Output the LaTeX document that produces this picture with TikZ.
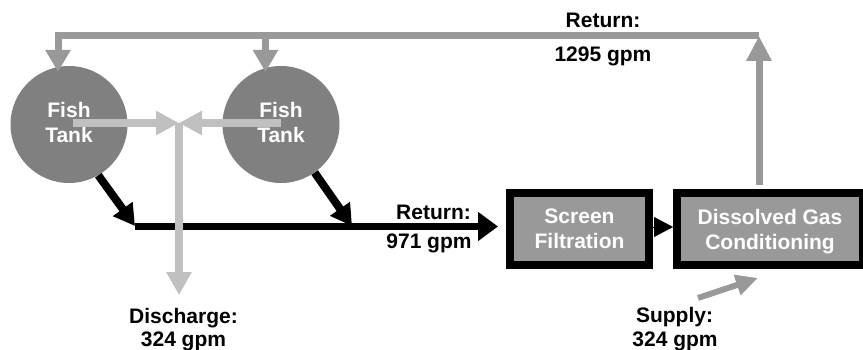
\documentclass[tikz,border=0pt]{standalone}
\usepackage{fontspec}
\setmainfont{Liberation Sans}
\usetikzlibrary{arrows.meta}
\definecolor{tankgray}{HTML}{808080}
\definecolor{retgray}{HTML}{999999}
\definecolor{lightg}{HTML}{C0C0C0}
\definecolor{boxgray}{HTML}{999999}
\begin{document}
\begin{tikzpicture}[x=1pt,y=-1pt,
  bigfont/.style={font=\fontsize{21}{25}\selectfont\bfseries},
  lbl/.style={bigfont, inner sep=0pt, anchor=base, text=black},
  tank/.style={circle, fill=tankgray, minimum size=117pt, inner sep=0pt,
    text=white, align=center, bigfont},
  proc/.style={draw=black, line width=8pt, fill=boxgray, text=white,
    align=center, bigfont, minimum height=72pt, inner sep=0pt},
  retline/.style={draw=retgray, line width=7pt, line join=miter},
  lgline/.style={draw=lightg, line width=8pt},
  blkline/.style={draw=black, line width=8pt},
  suppline/.style={draw=retgray, line width=6pt}
]
\useasboundingbox (0,0) rectangle (863,350);
\clip (0,0) rectangle (863,350);

% coordinates
\coordinate (cr) at (759,36);
\coordinate (cl) at (58,36);
\coordinate (cm) at (265.5,36);
\coordinate (t1in) at (58,72);
\coordinate (t2in) at (265.5,72);
\coordinate (gs) at (759,185);
\coordinate (l1) at (73,123);
\coordinate (l2) at (281,123);
\coordinate (j) at (179,123);
\coordinate (dis) at (179,295);
\coordinate (b1) at (135,226);
\coordinate (b2) at (352,226);
\coordinate (hs) at (135,226.5);
\coordinate (he) at (498,226.5);
\coordinate (s0) at (698,298);
\coordinate (s1) at (758,278);

% tanks
\node[tank] (tank1) at (69,124.5) {Fish\\Tank\rule[-4pt]{0pt}{0pt}};
\node[tank] (tank2) at (281,124.5) {Fish\\Tank\rule[-4pt]{0pt}{0pt}};

% process boxes
\node[proc, minimum width=139pt] (filt) at (579.5,229) {Screen\\Filtration};
\node[proc, minimum width=186pt] (dgc) at (770,229) {\rule{0pt}{19.5pt}Dissolved Gas\\Conditioning};

% top return loop
\draw[retline, -{Triangle[length=25pt,width=24pt]}] (gs) -- (cr);
\draw[retline, -{Triangle[length=22pt,width=24pt]}] (cr) -- (cl) -- (t1in);
\draw[retline, -{Triangle[length=22pt,width=24pt]}] (cm) -- (t2in);

% black return flows
\draw[blkline, -{Triangle[length=21pt,width=23pt]}] (tank1.-60) -- (b1);
\draw[blkline, -{Triangle[length=21pt,width=23pt]}] (tank2.-55) -- (b2);
\draw[blkline, line width=7pt, -{Triangle[length=20pt,width=28pt]}] (hs) -- (he);

% light gray discharge flows
\draw[lgline, -{Triangle[length=23pt,width=23pt]}] (l1) -- (j);
\draw[lgline, -{Triangle[length=23pt,width=23pt]}] (l2) -- (j);
\draw[lgline, -{Triangle[length=23pt,width=24pt]}] (j) -- (dis);

% between boxes
\draw[line width=0.1pt, -{Triangle[length=19pt,width=20pt]}] ([yshift=2pt]filt.east) -- ([yshift=2pt]dgc.west);

% supply
\draw[suppline, -{Triangle[length=22pt,width=20pt]}] (s0) -- (s1);

% labels
\node[lbl] (r1a) at (603,28) {Return:};
\node[lbl] (r1b) at (603,62) {1295 gpm};
\node[lbl] (r2a) at (433.5,220) {Return:};
\node[lbl] (r2b) at (429,248) {971 gpm};
\node[lbl] (da) at (183.5,323) {Discharge:};
\node[lbl] (db) at (183.5,346.5) {324 gpm};
\node[lbl] (sa) at (674.5,322) {Supply:};
\node[lbl] (sb) at (675,346.5) {324 gpm};
\end{tikzpicture}
\end{document}
